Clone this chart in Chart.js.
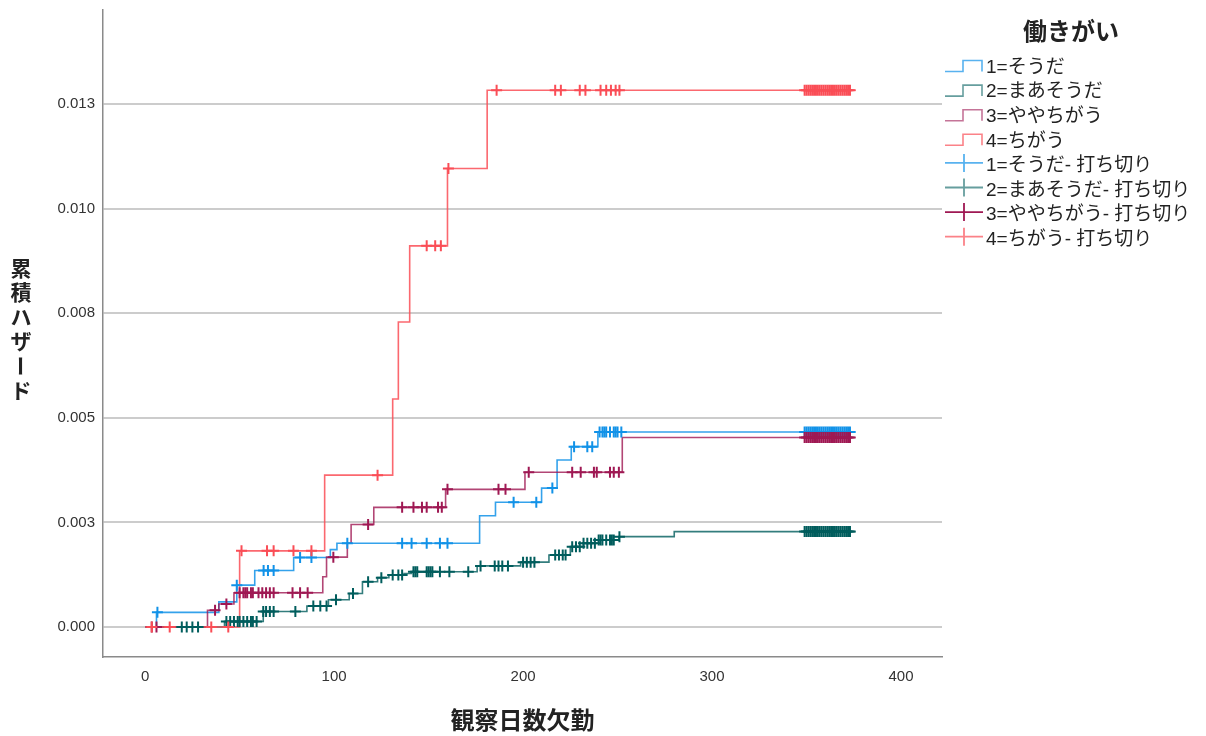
<!DOCTYPE html>
<html>
<head>
<meta charset="utf-8">
<script src="https://cdn.jsdelivr.net/npm/chart.js@4.4.1/dist/chart.umd.min.js"></script>
<style>
  body { margin: 0; background: #fff; }
  #wrap { width: 1206px; height: 736px; position: relative; }
</style>
</head>
<body>
<div id="wrap"><canvas id="hazChart"></canvas></div>
<script>
// Groups and legend text
const groupLabels = ['1=そうだ', '2=まあそうだ', '3=ややちがう', '4=ちがう'];
const censorSuffix = '- 打ち切り';
const legendTitle = '働きがい';
const xTitle = '観察日数欠勤';
const yTitle = '累積ハザード';

// Axis ticks
const xTicks = [0, 100, 200, 300, 400];
const yTicks = [0, 0.0025, 0.005, 0.0075, 0.010, 0.0125];
const yTickLabels = ['0.000', '0.003', '0.005', '0.008', '0.010', '0.013'];

// censored at the end of follow-up (same days in every group)
const endCens = [349, 350, 351, 352, 353, 354, 355, 356, 357, 358, 359, 360, 361, 362,
                 363, 364, 365, 366, 367, 368, 369, 370, 371, 372, 373];

// 1=そうだ : step times (days) and cumulative hazard after each step
const blueTimes = [0, 6, 39, 48.5, 58, 78.6, 98, 101.5, 177, 185.4, 209.8, 218, 225.5, 239.6, 376];
const blueHaz   = [0, 0.00035, 0.0006, 0.001, 0.00135, 0.00166, 0.00185, 0.002, 0.00266, 0.00298, 0.00332, 0.00399, 0.00431, 0.00466, 0.00466];
const blueCens  = [6.5, 48.5, 62.7, 65, 68, 82, 88, 107, 136, 141, 149, 156, 160, 195, 207, 215.5, 227, 234, 236.6,
                   240.5, 242, 243, 244, 246, 248, 249, 250, 252];

// 2=まあそうだ
const greenTimes = [0, 42, 62.5, 85.6, 97, 108, 115, 123, 129, 137, 141, 175.7, 198.7, 213.7, 225, 232, 240, 250.7, 280, 376];
const greenHaz   = [0, 0.00013, 0.00037, 0.0005, 0.00065, 0.0008, 0.00108, 0.00118, 0.00124, 0.00128, 0.00132, 0.00146, 0.00155, 0.00172, 0.00192, 0.002, 0.00208, 0.00216, 0.00228, 0.00228];
const greenCens  = [19.4, 22, 25, 28, 43, 45, 47, 49, 50, 52, 54, 56, 57, 59, 62.5, 64, 66, 68, 79.5, 89, 92.7, 96,
                    101, 110, 118, 125, 131, 134, 136, 142, 143, 144, 149, 150, 151, 152, 156, 161, 171, 177.5,
                    185, 187, 189, 192, 200, 202, 204, 206, 217, 219, 221, 222.5, 226, 228, 230, 232, 234, 236,
                    238, 240, 241, 242, 244, 246, 247, 248, 251];

// 3=ややちがう
const purpleTimes = [0, 33, 39, 47, 94, 96, 107, 109, 121, 159, 201, 252.5, 376];
const purpleHaz   = [0, 0.0004, 0.00055, 0.00082, 0.0012, 0.00167, 0.002, 0.00245, 0.00286, 0.00329, 0.0037, 0.00453, 0.00453];
const purpleCens  = [3.5, 6, 37, 43, 50, 52, 53, 54, 56, 57, 60, 62, 64, 66, 68, 78, 82, 86, 99.6, 118, 136, 142, 146.5,
                     149, 155, 157, 160, 187, 190.7, 203, 226, 230.5, 237.5, 239, 246, 248, 250.7];

// 4=ちがう
const redTimes = [0, 50, 95, 131, 134, 140, 160, 181, 376];
const redHaz   = [0, 0.00182, 0.00363, 0.00545, 0.00729, 0.00911, 0.01096, 0.01283, 0.01283];
const redCens  = [3.5, 13, 35, 44, 51, 64.5, 68, 78.5, 88, 123, 149, 153.5, 156.5, 160.5, 186, 217, 220, 230, 233,
                  241, 244, 246.5, 249, 251];

const colors = ['#1192e8', '#005d5d', '#9f1853', '#fa4d56'];
const lineColors = ['rgba(17,146,232,0.85)', 'rgba(0,93,93,0.8)', 'rgba(159,24,83,0.8)', 'rgba(250,77,86,0.85)'];
const legendLineColors = ['rgba(17,146,232,0.7)', 'rgba(0,93,93,0.6)', 'rgba(159,24,83,0.6)', 'rgba(250,77,86,0.7)'];

const series = [
  { times: blueTimes, haz: blueHaz, cens: blueCens.concat(endCens) },
  { times: greenTimes, haz: greenHaz, cens: greenCens.concat(endCens) },
  { times: purpleTimes, haz: purpleHaz, cens: purpleCens.concat(endCens) },
  { times: redTimes, haz: redHaz, cens: redCens.concat(endCens) }
];

// value of the step curve at time t
function hazAt(times, haz, t) {
  let v = haz[0];
  for (let i = 0; i < times.length; i++) {
    if (times[i] <= t) v = haz[i];
  }
  return v;
}

const datasets = [];
// censor marks drawn on top (lower order = on top)
const censorOrder = [2, 3, 1, 0];
series.forEach((s, i) => {
  datasets.push({
    type: 'scatter',
    label: groupLabels[i] + censorSuffix,
    data: s.cens.map(t => ({ x: t, y: hazAt(s.times, s.haz, t) })),
    pointStyle: 'cross',
    radius: 5.5,
    hoverRadius: 5.5,
    borderWidth: 2,
    borderColor: colors[i],
    backgroundColor: colors[i],
    order: censorOrder[i]
  });
});
const lineOrder = [6, 7, 5, 4];
series.forEach((s, i) => {
  datasets.push({
    type: 'line',
    label: groupLabels[i],
    data: s.times.map((t, k) => ({ x: t, y: s.haz[k] })),
    stepped: 'before',
    borderColor: lineColors[i],
    borderWidth: 1.6,
    pointRadius: 0,
    fill: false,
    order: lineOrder[i]
  });
});

const fontLatin = '"Liberation Sans", Arial, "Noto Sans CJK JP", sans-serif';
const fontJP = '"Noto Sans CJK JP", "Liberation Sans", sans-serif';

// y title (vertical) and the legend on the right
const extras = {
  id: 'extras',
  afterDraw(chart) {
    const ctx = chart.ctx;
    ctx.save();
    ctx.fillStyle = '#222';
    ctx.textAlign = 'center';
    ctx.textBaseline = 'middle';

    // vertical y title
    ctx.font = 'bold 21px ' + fontJP;
    [...yTitle].forEach((ch, k) => {
      const cy = 268 + k * 24.5;
      if (ch === 'ー') {
        ctx.save();
        ctx.translate(21, cy);
        ctx.rotate(Math.PI / 2);
        ctx.fillText(ch, 0, 0);
        ctx.restore();
      } else {
        ctx.fillText(ch, 21, cy);
      }
    });

    // legend title
    ctx.font = 'bold 24px ' + fontJP;
    ctx.fillText(legendTitle, 1071, 31);

    // legend rows
    ctx.textAlign = 'left';
    ctx.font = '19px ' + fontLatin;
    const rows = [];
    groupLabels.forEach((g, i) => rows.push({ text: g, kind: 'step', i }));
    groupLabels.forEach((g, i) => rows.push({ text: g + censorSuffix, kind: 'cross', i }));
    rows.forEach((r, k) => {
      const yc = 67.5 + k * 24.6;
      if (r.kind === 'step') {
        ctx.strokeStyle = legendLineColors[r.i];
        ctx.lineWidth = 1.6;
        ctx.beginPath();
        ctx.moveTo(945, yc + 4);
        ctx.lineTo(963, yc + 4);
        ctx.lineTo(963, yc - 7);
        ctx.lineTo(982, yc - 7);
        ctx.lineTo(982, yc + 4);
        ctx.stroke();
      } else {
        ctx.strokeStyle = k === 6 ? colors[r.i] : legendLineColors[r.i];
        ctx.lineWidth = 1.8;
        ctx.beginPath();
        ctx.moveTo(945, yc - 3);
        ctx.lineTo(983, yc - 3);
        ctx.moveTo(964, yc - 12);
        ctx.lineTo(964, yc + 6);
        ctx.stroke();
      }
      ctx.fillStyle = '#222';
      ctx.fillText(r.text, 986, yc);
    });
    ctx.restore();
  }
};

new Chart(document.getElementById('hazChart'), {
  data: { datasets: datasets },
  options: {
    responsive: true,
    maintainAspectRatio: false,
    animation: false,
    layout: { padding: { top: 10, right: 264, left: 0, bottom: 0 } },
    plugins: {
      legend: { display: false },
      tooltip: { enabled: false }
    },
    scales: {
      x: {
        type: 'linear',
        min: -22.3,
        max: 421.7,
        afterFit: scale => { scale.height = 79; },
        afterBuildTicks: scale => { scale.ticks = xTicks.map(v => ({ value: v })); },
        grid: { display: false, drawTicks: false },
        border: { display: true, color: '#8a8a8a', width: 1.5 },
        ticks: {
          padding: 11,
          color: '#333',
          font: { family: fontLatin, size: 15 },
          maxRotation: 0,
          callback: v => String(v)
        },
        title: {
          display: true,
          text: xTitle,
          color: '#222',
          font: { family: fontJP, size: 24, weight: 'bold' },
          padding: { top: 0, bottom: 2 }
        }
      },
      y: {
        type: 'linear',
        min: -0.000717,
        max: 0.014747,
        afterFit: scale => {
          scale.width = 103;
          scale.paddingTop = 0;
          scale.paddingBottom = 0;
        },
        afterBuildTicks: scale => { scale.ticks = yTicks.map(v => ({ value: v })); },
        grid: { display: true, drawTicks: false, color: '#cccccc', lineWidth: 2 },
        border: { display: true, color: '#8a8a8a', width: 1.5 },
        ticks: {
          padding: 8,
          color: '#333',
          font: { family: fontLatin, size: 15 },
          callback: (v) => {
            const k = yTicks.findIndex(t => Math.abs(t - v) < 1e-9);
            return k >= 0 ? yTickLabels[k] : '';
          }
        }
      }
    }
  },
  plugins: [extras]
});
</script>
</body>
</html>
